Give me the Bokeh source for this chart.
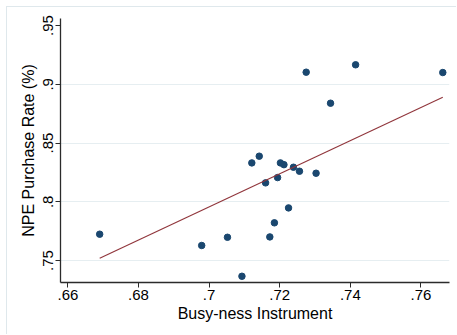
from bokeh.plotting import figure
from bokeh.models import FixedTicker, CustomJSTickFormatter, Range1d
from bokeh.embed import file_html
from bokeh.resources import INLINE

busy = [0.6690, 0.6979, 0.7052, 0.7093, 0.7121, 0.7142, 0.7160, 0.7172, 0.7185,
        0.7194, 0.7202, 0.7212, 0.7225, 0.7239, 0.7256, 0.7303, 0.7275, 0.7344,
        0.7415, 0.7662]
npe = [0.7724, 0.7628, 0.7698, 0.7366, 0.8331, 0.8388, 0.8161, 0.7701, 0.7821,
       0.8206, 0.8331, 0.8316, 0.7948, 0.8294, 0.8260, 0.8243, 0.9103, 0.8839,
       0.9166, 0.9100]
fit_x = [0.6690, 0.7662]
fit_y = [0.7520, 0.8890]

x_ticks = [0.66, 0.68, 0.70, 0.72, 0.74, 0.76]
y_ticks = [0.75, 0.80, 0.85, 0.90, 0.95]
y_grid = [0.75, 0.80, 0.85, 0.90]

FONT = "Liberation Sans"

p = figure(width=450, height=328, output_backend="svg", toolbar_location=None,
           x_range=Range1d(0.6579, 0.7681), y_range=Range1d(0.7313, 0.9560),
           min_border_left=53, min_border_right=8, min_border_top=11, min_border_bottom=53)
p.styles = {"border-top": "1px solid #dfe8ec", "border-left": "1px solid #dfe8ec",
            "margin-left": "6px", "margin-top": "6px"}
p.outline_line_color = None
p.background_fill_color = "white"
p.border_fill_color = "white"

fmt = CustomJSTickFormatter(code="return tick.toFixed(2).replace(/0+$/, '').replace(/^0/, '');")

for ax in (p.xaxis[0], p.yaxis[0]):
    ax.formatter = fmt
    ax.minor_tick_line_color = None
    ax.major_tick_in = 0
    ax.major_tick_out = 5
    ax.axis_line_color = "#2b2b2b"
    ax.major_tick_line_color = "#2b2b2b"
    ax.axis_line_width = 1.3
    ax.major_label_text_font = FONT
    ax.major_label_text_font_size = "15px"
    ax.major_label_text_color = "black"
    ax.axis_label_text_font = FONT
    ax.axis_label_text_font_size = "16px"
    ax.axis_label_text_font_style = "normal"
    ax.axis_label_text_color = "black"

p.xaxis[0].ticker = FixedTicker(ticks=x_ticks)
p.yaxis[0].ticker = FixedTicker(ticks=y_ticks)
p.xaxis.axis_label = "Busy-ness Instrument"
p.yaxis.axis_label = "NPE Purchase Rate (%)"
p.yaxis.major_label_orientation = "vertical"
p.xaxis.major_label_standoff = 2
p.yaxis.major_label_standoff = 2
p.xaxis.axis_label_standoff = 2
p.yaxis.axis_label_standoff = 4

p.xgrid.grid_line_color = None
p.ygrid.ticker = FixedTicker(ticks=y_grid)
p.ygrid.grid_line_color = "#e6eef1"
p.ygrid.grid_line_width = 1

p.scatter(busy, npe, size=6.5, color="#1a476f", line_color="#1a476f")
p.line(fit_x, fit_y, line_color="#90353b", line_width=1.1)

open("out.html", "w").write(file_html(p, INLINE))
